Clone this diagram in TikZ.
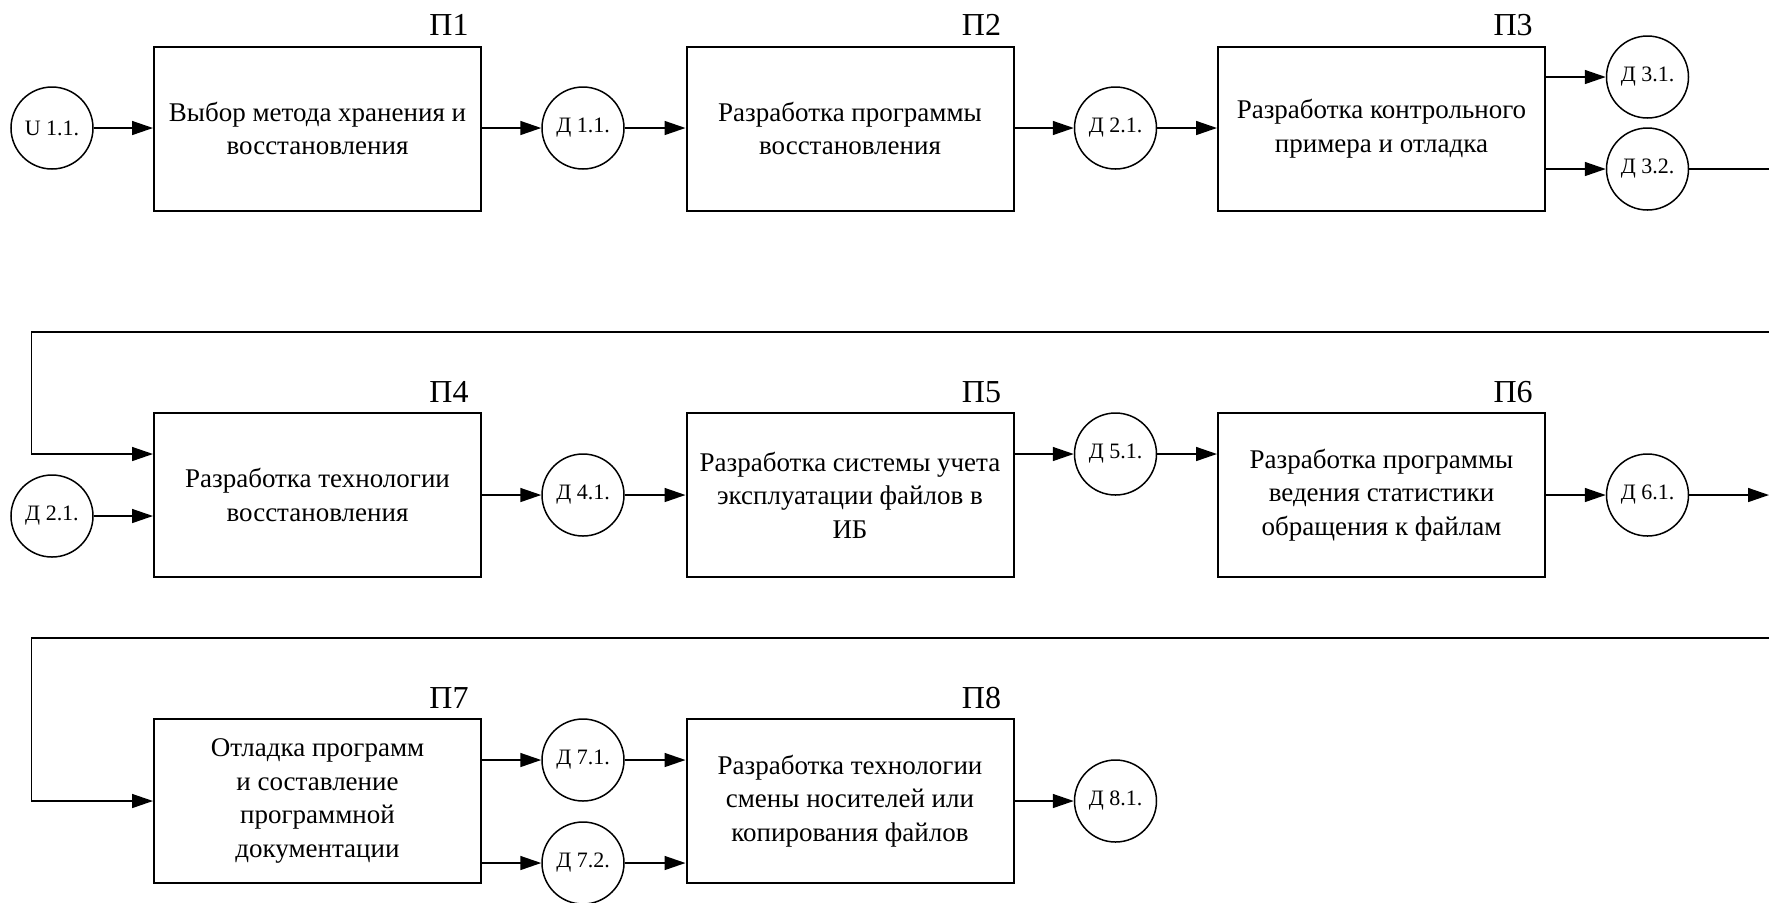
\documentclass[tikz,border=0pt]{standalone}
\usepackage{fontspec}
\setmainfont{Liberation Serif}
\usetikzlibrary{arrows.meta,calc}

\tikzset{
  proc/.style={draw, line width=1pt, minimum width=163.5pt, minimum height=82pt,
    inner sep=0pt, align=center, font=\fontsize{13.5}{16.8}\selectfont},
  dat/.style={draw, circle, line width=0.75pt, minimum size=41pt, inner sep=0pt,
    font=\fontsize{11}{13}\selectfont},
  plab/.style={anchor=base east, inner sep=0pt, font=\fontsize{16}{18}\selectfont},
  conn/.style={-{Triangle[length=10.5pt,width=7pt]}, line width=0.75pt},
  wire/.style={line width=0.75pt}
}

\begin{document}
\begin{tikzpicture}[x=0.5pt, y=-0.5pt]
  \useasboundingbox (0,0) rectangle (1769,902);

  % ---- row 1 ----
  \node[dat]  (u11) at (52,128)      {U 1.1.};
  \node[proc] (p1)  at (317.5,128.5) {Выбор метода хранения и\\восстановления};
  \node[dat]  (d11) at (583,128)     {Д 1.1.};
  \node[proc] (p2)  at (850,128.5)   {Разработка программы\\восстановления};
  \node[dat]  (d21) at (1115.5,128)  {Д 2.1.};
  \node[proc] (p3)  at (1381.5,128.5){Разработка контрольного\\примера и отладка};
  \node[dat]  (d31) at (1647.5,77)   {Д 3.1.};
  \node[dat]  (d32) at (1647.5,169)  {Д 3.2.};

  % ---- row 2 ----
  \node[dat]  (d21b) at (52,516)     {Д 2.1.};
  \node[proc] (p4)  at (317.5,495)   {Разработка технологии\\восстановления};
  \node[dat]  (d41) at (583,495)     {Д 4.1.};
  \node[proc] (p5)  at (850,495)     {Разработка системы учета\\эксплуатации файлов в\\ИБ};
  \node[dat]  (d51) at (1115.5,454)  {Д 5.1.};
  \node[proc] (p6)  at (1381.5,495)  {Разработка программы\\ведения статистики\\обращения к файлам};
  \node[dat]  (d61) at (1647.5,495)  {Д 6.1.};

  % ---- row 3 ----
  \node[proc] (p7)  at (317.5,801)   {Отладка программ\\и составление\\программной\\документации};
  \node[dat]  (d71) at (583,760)     {Д 7.1.};
  \node[dat]  (d72) at (583,863)     {Д 7.2.};
  \node[proc] (p8)  at (850,801)     {Разработка технологии\\смены носителей или\\копирования файлов};
  \node[dat]  (d81) at (1115.5,801)  {Д 8.1.};

  % ---- process labels ----
  \foreach \p/\t in {p1/П1,p2/П2,p3/П3,p4/П4,p5/П5,p6/П6,p7/П7,p8/П8}
    \node[plab] (lab\p) at ([xshift=-6.5pt,yshift=5pt]\p.north east) {\t};

  % ---- connectors, row 1 ----
  \draw[conn] (u11.east) -- (u11.east -| p1.west);
  \draw[conn] (p1.east |- d11) -- (d11.west);
  \draw[conn] (d11.east) -- (d11.east -| p2.west);
  \draw[conn] (p2.east |- d21) -- (d21.west);
  \draw[conn] (d21.east) -- (d21.east -| p3.west);
  \draw[conn] (p3.east |- d31) -- (d31.west);
  \draw[conn] (p3.east |- d32) -- (d32.west);
  \coordinate (out1) at (1769,169);
  \draw[wire] (d32.east) -- (out1);

  % ---- connectors, row 2 ----
  \coordinate (in2a) at (1769,332);
  \coordinate (in2b) at (31.4,332);
  \coordinate (in2c) at (31.4,454);
  \draw[conn] (in2a) -- (in2b) -- (in2c) -- (in2c -| p4.west);
  \draw[conn] (d21b.east) -- (d21b.east -| p4.west);
  \draw[conn] (p4.east) -- (d41.west);
  \draw[conn] (d41.east) -- (p5.west);
  \draw[conn] (p5.east |- d51) -- (d51.west);
  \draw[conn] (d51.east) -- (d51.east -| p6.west);
  \draw[conn] (p6.east) -- (d61.west);
  \coordinate (out2) at (1769,495);
  \draw[conn] (d61.east) -- (out2);

  % ---- connectors, row 3 ----
  \coordinate (in3a) at (1769,638);
  \coordinate (in3b) at (31.4,638);
  \coordinate (in3c) at (31.4,801);
  \draw[conn] (in3a) -- (in3b) -- (in3c) -- (p7.west);
  \draw[conn] (p7.east |- d71) -- (d71.west);
  \draw[conn] (p7.east |- d72) -- (d72.west);
  \draw[conn] (d71.east) -- (d71.east -| p8.west);
  \draw[conn] (d72.east) -- (d72.east -| p8.west);
  \draw[conn] (p8.east) -- (d81.west);
\end{tikzpicture}
\end{document}
